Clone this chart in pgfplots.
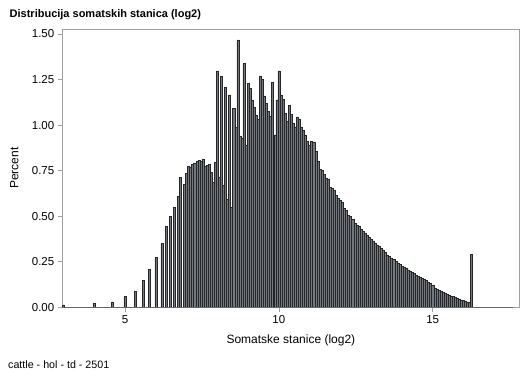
\documentclass[border=0pt]{standalone}
\usepackage{fontspec}
\setmainfont{Liberation Sans}
\usepackage{pgfplots}
\usepackage{pgfplotstable}
\pgfplotsset{compat=1.18}
\definecolor{barfill}{RGB}{116,120,128}
\definecolor{framegray}{RGB}{160,160,160}
\pgfplotstableread{
x y
3.000 0.013
4.000 0.020
4.600 0.030
5.000 0.058
5.333 0.089
5.600 0.147
5.800 0.207
6.000 0.274
6.200 0.349
6.333 0.445
6.467 0.499
6.600 0.549
6.733 0.608
6.800 0.711
6.933 0.675
7.000 0.735
7.067 0.776
7.133 0.770
7.200 0.785
7.267 0.790
7.333 0.800
7.400 0.808
7.467 0.800
7.533 0.814
7.600 0.772
7.667 0.780
7.733 0.785
7.800 0.740
7.867 0.684
7.933 0.796
8.000 1.297
8.067 0.711
8.133 1.266
8.200 0.671
8.267 1.207
8.333 0.594
8.400 1.165
8.467 0.547
8.533 1.092
8.600 0.986
8.667 1.467
8.733 0.940
8.800 0.930
8.867 1.339
8.933 0.890
9.000 1.229
9.067 1.200
9.133 1.138
9.200 1.100
9.267 1.055
9.333 1.030
9.400 1.270
9.467 1.250
9.533 1.160
9.600 1.120
9.667 1.074
9.733 1.050
9.800 1.235
9.867 0.946
9.933 1.138
10.000 1.297
10.067 1.165
10.133 1.140
10.200 1.065
10.267 1.020
10.333 1.110
10.400 1.060
10.467 1.010
10.533 0.990
10.600 1.045
10.667 1.030
10.733 0.990
10.800 0.970
10.867 0.946
10.933 0.909
11.000 0.887
11.067 0.909
11.133 0.905
11.200 0.856
11.267 0.803
11.333 0.757
11.400 0.753
11.467 0.730
11.533 0.708
11.600 0.705
11.667 0.659
11.733 0.652
11.800 0.640
11.867 0.615
11.933 0.598
12.000 0.585
12.067 0.575
12.133 0.543
12.200 0.531
12.267 0.507
12.333 0.498
12.400 0.482
12.467 0.461
12.533 0.449
12.600 0.443
12.667 0.428
12.733 0.418
12.800 0.405
12.867 0.395
12.933 0.382
13.000 0.372
13.067 0.364
13.133 0.354
13.200 0.343
13.267 0.335
13.333 0.324
13.400 0.315
13.467 0.302
13.533 0.288
13.600 0.278
13.667 0.270
13.733 0.263
13.800 0.254
13.867 0.244
13.933 0.236
14.000 0.228
14.067 0.220
14.133 0.212
14.200 0.206
14.267 0.198
14.333 0.191
14.400 0.185
14.467 0.178
14.533 0.170
14.600 0.164
14.667 0.159
14.733 0.153
14.800 0.146
14.867 0.138
14.933 0.133
15.000 0.120
15.067 0.106
15.133 0.100
15.200 0.094
15.267 0.089
15.333 0.083
15.400 0.077
15.467 0.071
15.533 0.067
15.600 0.063
15.667 0.058
15.733 0.053
15.800 0.049
15.867 0.046
15.933 0.041
16.000 0.037
16.067 0.034
16.133 0.030
16.200 0.025
16.267 0.291
}\histdata
\begin{document}
\begin{tikzpicture}
\begin{axis}[
  width=457.2pt, height=278.3pt, scale only axis,
  xmin=2.962, xmax=17.82, ymin=0, ymax=1.527,
  axis line style={framegray, line width=0.7pt},
  tick style={framegray, line width=0.7pt},
  tick align=outside, major tick length=4.5pt,
  tick pos=left,
  xtick={5,10,15}, ytick={0,0.25,0.5,0.75,1,1.25,1.5},
  yticklabel style={/pgf/number format/.cd, fixed, fixed zerofill, precision=2},
  /pgf/number format/assume math mode=true,
  ticklabel style={font=\fontsize{11.5}{13}\selectfont, text=black},
  xlabel={Somatske stanice (log2)}, ylabel={Percent},
  every axis x label/.style={at={(axis description cs:0.5,0)}, anchor=base, yshift=-35.7pt, font=\fontsize{12}{14}\selectfont},
  every axis y label/.style={at={(axis description cs:-0.105,0.5)}, rotate=90, anchor=center, font=\fontsize{12}{14}\selectfont},
  clip=false,
]
\addplot[ybar, bar width=0.0667, fill=barfill, draw=black!85, line width=0.5pt] table[x=x, y=y] {\histdata};
\addplot[black!60, line width=0.6pt] coordinates {(2.967,0) (17.6,0)};
\end{axis}
\path[use as bounding box] (-62.3pt,-70.7pt) rectangle (466.7pt,307.3pt);
\node[anchor=base west, inner sep=0, font=\fontsize{11}{13}\selectfont\bfseries] at (-52.8pt,289.3pt) {Distribucija somatskih stanica (log2)};
\node[anchor=base west, inner sep=0, font=\fontsize{10.7}{13}\selectfont] at (-54.3pt,-60.7pt) {cattle - hol - td - 2501};
\end{tikzpicture}
\end{document}
